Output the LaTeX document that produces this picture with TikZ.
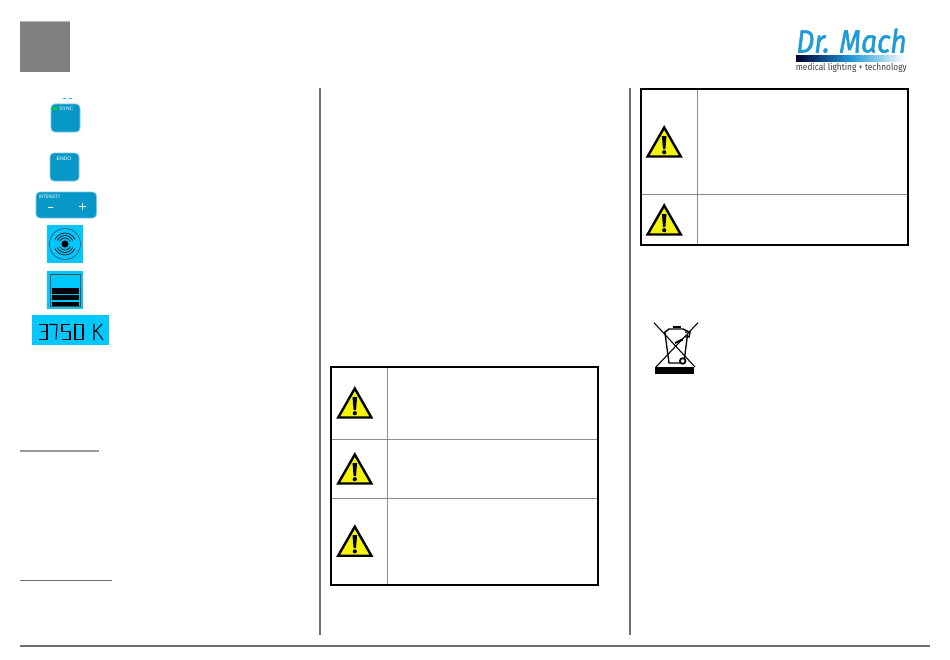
\documentclass[tikz,border=0pt]{standalone}
\usepackage{fontspec}
\setmainfont{Liberation Sans}
\newfontfamily\logofont[ItalicFeatures={FakeBold=1.6}]{Fira Sans}
\usetikzlibrary{shapes.geometric}
\definecolor{keyblue}{HTML}{0898C8}
\definecolor{keyedge}{HTML}{7CC8E4}
\definecolor{lcdblue}{HTML}{00C8FF}
\definecolor{logoblue}{HTML}{1E9AD8}
\definecolor{warnyellow}{HTML}{F4F40A}
\definecolor{rulegrey}{HTML}{6E6E6E}
\tikzset{
  x=0.75pt,y=-0.75pt,
  keybox/.style={fill=keyblue,draw=keyedge,line width=0.5pt,rounded corners=3pt},
  keytext/.style={text=white,font=\fontsize{3.8}{4}\selectfont,inner sep=0pt},
  lcdbox/.style={fill=lcdblue,draw=none},
  frameline/.style={draw=black,line width=1.3pt},
  cellline/.style={draw=black!45,line width=0.7pt},
  colrule/.style={draw=rulegrey,line width=0.9pt},
  hrule/.style={draw=rulegrey,line width=0.8pt},
  warntri/.style={draw=black,fill=warnyellow,line width=1.8pt,line join=miter},
  lcdstroke/.style={draw=black,line width=0.8pt},
}
\newcommand{\warnsign}[2]{%
  \begin{scope}[shift={(#1,#2)}]
    \draw[warntri] (0,-14) -- (16.6,15) -- (-16.6,15) -- cycle;
    \fill[black] (-2.3,-5.5) -- (2.3,-5.5) -- (1.2,7.5) -- (-1.2,7.5) -- cycle;
    \fill[black] (0,10.7) circle (2.1);
  \end{scope}}
\begin{document}
\begin{tikzpicture}
\useasboundingbox (0,0) rectangle (950,660);
\fill[white] (0,0) rectangle (950,660);
% header square
\fill[black!50] (20,21) rectangle (70,72);
\fill[black!28] (20,21) rectangle (70,22);
% logo
\node[inner sep=0pt,anchor=base east,text=logoblue] (logoname) at (907,52.5) {\scalebox{0.88}[1]{\logofont\itshape\fontsize{24}{26}\selectfont Dr. Mach}};
\shade[left color=black!80!blue,right color=white,middle color=logoblue] (796,56) rectangle (906,62);
\node[inner sep=0pt,anchor=base east,text=black!75] (logotag) at (907,70.5) {\scalebox{0.88}[1]{\logofont\fontsize{7.1}{8}\selectfont medical lighting + technology}};
% column rules
\draw[colrule] (320,88) -- (320,635);
\draw[colrule] (630,88) -- (630,635);
\draw[hrule] (20,646) -- (930,646);
\draw[draw=black!40,line width=0.9pt] (20,451) -- (99,451);
\draw[hrule] (20,580.5) -- (112,580.5);
% keys
\draw[draw=lcdblue,line width=0.5pt] (63,98.5) -- (66,98.5) (69,98.5) -- (72,98.5);
\path[keybox] (51,104) rectangle (80,132);
\fill[green!85!black] (53,107) rectangle (56.5,110.5);
\node[keytext,anchor=west] (sync) at (59,109) {SYNC};
\path[keybox] (50,153) rectangle (79,181);
\node[keytext] (endo) at (64,159) {ENDO};
\path[keybox] (36,192) rectangle (96.5,218);
\node[keytext,anchor=west] (intensity) at (39,197) {\scalebox{0.8}[1]{INTENSITY}};
\draw[white,line width=0.6pt] (48,207) -- (53,207);
\draw[white,line width=0.6pt] (79,206) -- (86,206) (82.5,202.5) -- (82.5,209.5);
% sound icon
\path[lcdbox] (47,225) rectangle (83,263);
\fill[black] (65,244) circle (3.6);
\draw[line width=0.35pt,black!80] (65,244) circle (15.5);
\foreach \r in {6,8.5,11}{
 \draw[line width=0.5pt] (65,244) ++(25:\r) arc[start angle=25,delta angle=130,radius=\r];
 \draw[line width=0.5pt] (65,244) ++(205:\r) arc[start angle=205,delta angle=130,radius=\r];
}
% bar icon
\path[lcdbox] (47,271) rectangle (83,309);
\draw[draw=black!70,line width=0.6pt] (50.5,274.5) rectangle (80.5,306);
\fill[black] (52,288) rectangle (79,293.5);
\fill[black] (52,295) rectangle (79,300);
\fill[black] (52,301.5) rectangle (79,305.5);
% lcd
\path[lcdbox] (32,315) rectangle (109,345);
\draw[lcdstroke] (39,324.5) -- (47,324.5) -- (47,339.5) -- (39,339.5) (41,331.5) -- (47,331.5);
\draw[lcdstroke] (49,324.5) -- (57,324.5) -- (56,339.5);
\draw[lcdstroke] (70,324.5) -- (62,324.5) -- (62,331.5) -- (70,331.5) -- (70,339.5) -- (62,339.5);
\draw[lcdstroke] (75,324.5) rectangle (83,339.5);
\draw[lcdstroke] (94,324) -- (94,340) (95,331.5) -- (102,324) (95,331.5) -- (97,331.5) -- (103,340);
% middle table
\warnsign{354.8}{402.5}
\warnsign{354.8}{468.5}
\warnsign{354.8}{540.7}
\draw[cellline] (331,439.5) -- (598,439.5);
\draw[cellline] (331,498) -- (598,498);
\draw[cellline] (387.5,367) -- (387.5,585);
\draw[frameline] (331,367) rectangle (598,585);
% right table
\warnsign{664.2}{141.5}
\warnsign{664.2}{219.5}
\draw[cellline] (641,194) -- (908,194);
\draw[cellline] (697.5,89) -- (697.5,245);
\draw[frameline] (641,89) rectangle (908,245);
% weee bin
\draw[line width=0.8pt] (654,322.7) -- (695,367);
\draw[line width=0.8pt] (698,322.7) -- (656,367);
\draw[line width=1pt] (665,333) -- (669,363) -- (680,363);
\draw[line width=1pt] (687.5,335) -- (684.5,358);
\draw[line width=1.1pt] (664,333) -- (669,329) -- (683,329) -- (690,332.5);
\fill (673,325.5) rectangle (681,328);
\fill (675,342) -- (683,338) -- (683,340.5) -- (675,344) -- cycle;
\draw[line width=1.1pt] (685,332) -- (690,332) -- (689,337) -- (685,337);
\draw[line width=1.3pt,fill=white] (682.7,361) circle (2.8);
\fill (655,367) rectangle (694,374);
\end{tikzpicture}
\end{document}
